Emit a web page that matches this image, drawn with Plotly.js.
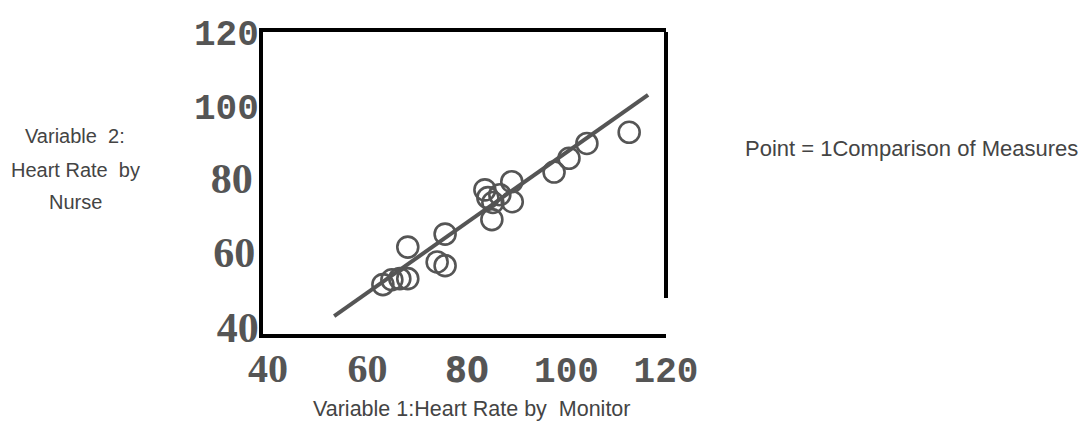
<!DOCTYPE html>
<html>
<head>
<meta charset="utf-8">
<script src="https://cdn.plot.ly/plotly-3.0.1.min.js"></script>
<style>html,body{margin:0;padding:0;background:#fff;}#chart{width:1081px;height:433px;}</style>
</head>
<body>
<div id="chart"></div>
<script>
// Data
const monitor = [63.1, 64.9, 66.5, 68.1, 68.1, 74.0, 75.6, 75.6, 83.6, 89.0, 89.1, 85.0, 85.2, 86.6, 84.2, 97.5, 100.5, 104.1, 112.6];
const nurse   = [52.0, 53.3, 53.6, 53.6, 62.1, 58.1, 57.1, 65.6, 77.5, 79.7, 74.3, 69.5, 74.1, 76.2, 75.4, 82.3, 86.0, 90.0, 93.0];
const fitX = [53.3, 116.4];
const fitY = [43.5, 103.1];

const xTickVals = [40, 60, 80, 100, 120];
const xTickLabels = ['40', '60', '80', '100', '120'];
const yTickVals = [40, 60, 80, 100, 120];
const yTickLabels = ['40', '60', '80', '100', '120'];

const xTitle = 'Variable 1:Heart Rate by\u00a0 Monitor';
const yTitleLines = ['Variable\u00a0 2:', 'Heart Rate\u00a0 by', 'Nurse'];
const legendNote = 'Point = 1Comparison of Measures';

const serif = 'font-family:\'Liberation Serif\', serif;font-weight:bold;';
const sansB = 'font-family:\'DejaVu Sans Condensed\', \'DejaVu Sans\', sans-serif;font-weight:bold;';
const mono = 'font-family:\'Liberation Mono\', monospace;font-weight:bold;';
const xStyles = [serif + 'font-size:40px', serif + 'font-size:40px', sansB + 'font-size:35px', mono + 'font-size:36px', mono + 'font-size:36px'];
const yStyles = [serif + 'font-size:42px', serif + 'font-size:42px', serif + 'font-size:42px', mono + 'font-size:36px', mono + 'font-size:36px'];
const yPad = ['', '<span style="font-size:6px">\u00a0</span>', '<span style="font-size:10px">\u00a0</span>', '', ''];

const xText = xTickLabels.map((t, i) => '<span style="' + xStyles[i] + '">' + t + '</span>');
const yText = yTickLabels.map((t, i) => '<span style="' + yStyles[i] + '">' + t + '</span>' + yPad[i]);

const grey = '#555555';
const textGrey = '#444444';

const traces = [
  {
    x: fitX, y: fitY, type: 'scatter', mode: 'lines',
    line: {color: grey, width: 4}, hoverinfo: 'skip', showlegend: false
  },
  {
    x: monitor, y: nurse, type: 'scatter', mode: 'markers',
    marker: {symbol: 'circle-open', size: 21, color: grey, line: {color: grey, width: 2.6}},
    showlegend: false
  }
];

const plotL = 263, plotR = 666, plotT = 32, plotB = 334;
const W = 1081, H = 433;
function px2paperX(px) { return (px - plotL) / (plotR - plotL); }
function px2paperY(py) { return (plotB - py) / (plotB - plotT); }

const annotations = yTitleLines.map((t, i) => ({
  text: t, xref: 'paper', yref: 'paper',
  x: px2paperX(75), y: px2paperY([136, 170, 202][i]),
  xanchor: 'center', yanchor: 'middle', showarrow: false,
  font: {family: 'Liberation Sans, Arial, sans-serif', size: 20, color: textGrey}
}));
annotations.push({
  text: legendNote, xref: 'paper', yref: 'paper',
  x: px2paperX(743), y: px2paperY(148), xanchor: 'left', yanchor: 'middle', showarrow: false,
  font: {family: 'Liberation Sans, Arial, sans-serif', size: 22, color: textGrey}
});
annotations.push({
  text: xTitle, xref: 'paper', yref: 'paper',
  x: px2paperX(471), y: px2paperY(409), xanchor: 'center', yanchor: 'middle', showarrow: false,
  font: {family: 'Liberation Sans, Arial, sans-serif', size: 21.5, color: textGrey}
});

const layout = {
  width: W, height: H,
  margin: {l: plotL, r: W - plotR, t: plotT, b: H - plotB, pad: 0},
  paper_bgcolor: '#ffffff', plot_bgcolor: '#ffffff',
  showlegend: false,
  xaxis: {
    range: [39, 120], tickvals: xTickVals, ticktext: xText,
    showgrid: false, zeroline: false, ticks: '',
    showline: true, mirror: true, linecolor: '#000', linewidth: 4,
    tickfont: {family: 'Liberation Mono, monospace', size: 34, color: grey},
    ticklabelstandoff: 3
  },
  yaxis: {
    range: [38.7, 120], tickvals: yTickVals, ticktext: yText,
    showgrid: false, zeroline: false, ticks: '',
    showline: true, mirror: false, linecolor: '#000', linewidth: 4,
    tickfont: {family: 'Liberation Mono, monospace', size: 36, color: grey},
    ticklabelstandoff: -7
  },
  shapes: [{
    type: 'line', xref: 'paper', yref: 'paper',
    x0: 1, x1: 1, y0: px2paperY(298), y1: 1,
    line: {color: '#000', width: 4}
  }],
  annotations: annotations
};

Plotly.newPlot('chart', traces, layout, {displayModeBar: false, staticPlot: true});
</script>
</body>
</html>
